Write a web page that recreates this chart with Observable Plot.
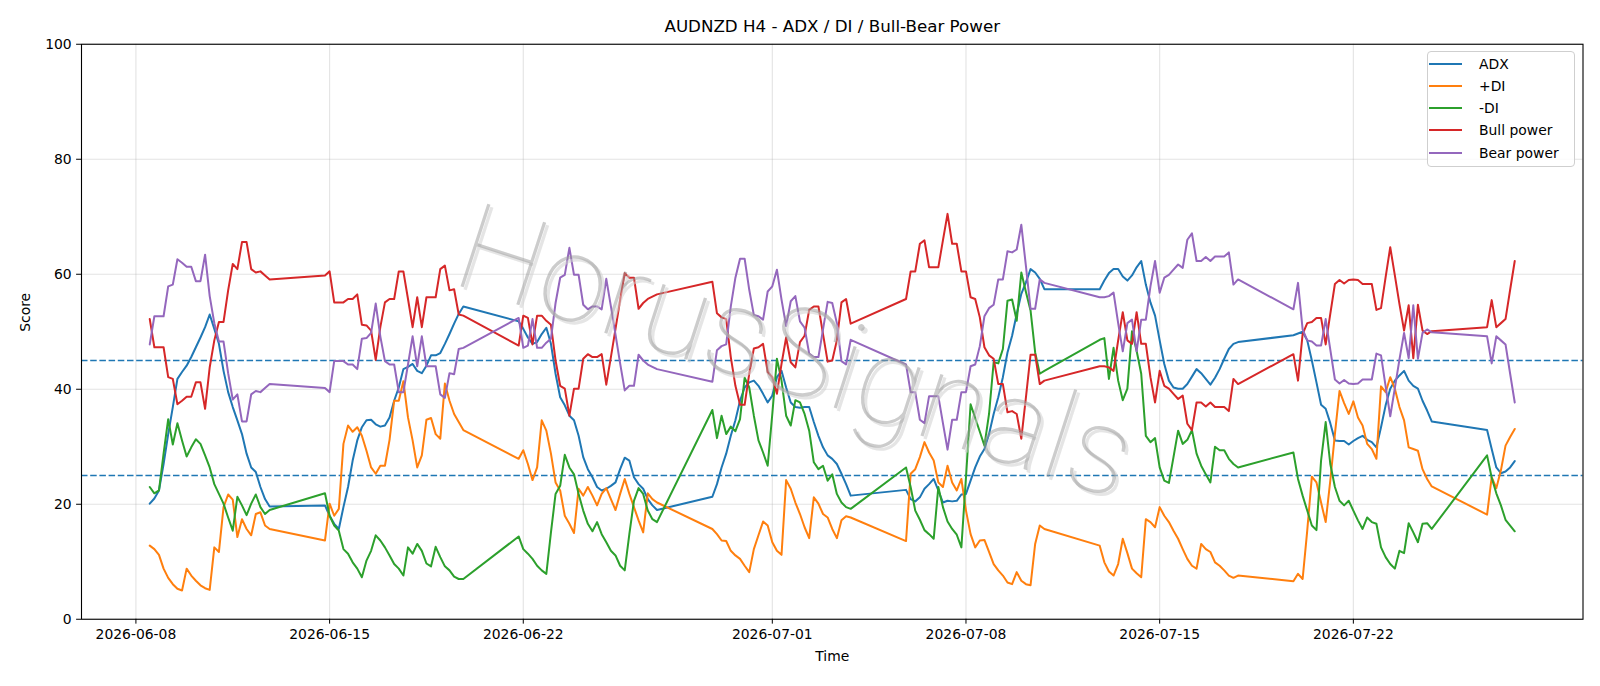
<!DOCTYPE html>
<html>
<head>
<meta charset="utf-8">
<script src="https://cdn.jsdelivr.net/npm/d3@7"></script>
<script src="https://cdn.jsdelivr.net/npm/@observablehq/plot@0.6"></script>
<style>
  html, body { margin: 0; padding: 0; background: #fff; }
  #chart { position: relative; width: 1600px; height: 686px; font-family: "DejaVu Sans", sans-serif; }
  #chart svg { position: absolute; left: 0; top: 0; }
  .legend { position: absolute; left: 1427px; top: 51px; width: 146px; height: 114px;
            border: 1px solid #cfcfcf; border-radius: 4px; background: rgba(255,255,255,0.85); }
  .legend .row { position: absolute; left: 0; height: 20px; width: 146px; }
  .legend .row svg { position: absolute; left: 4px; top: 0; }
  .legend .row span { position: absolute; left: 51px; top: 1px; font-size: 13.9px; line-height: 18px; color: #000; }
</style>
</head>
<body>
<div id="chart"></div>
<script>
// Trading sessions (UTC), H4 bars from first to last bar inclusive
const sessions = [
  ["2026-06-08T12:00:00Z", "2026-06-12T20:00:00Z"],
  ["2026-06-14T20:00:00Z", "2026-06-19T20:00:00Z"],
  ["2026-06-21T20:00:00Z", "2026-06-26T20:00:00Z"],
  ["2026-06-28T20:00:00Z", "2026-07-03T20:00:00Z"],
  ["2026-07-05T20:00:00Z", "2026-07-10T20:00:00Z"],
  ["2026-07-12T20:00:00Z", "2026-07-17T20:00:00Z"],
  ["2026-07-19T20:00:00Z", "2026-07-24T20:00:00Z"],
  ["2026-07-26T20:00:00Z", "2026-07-27T20:00:00Z"]
];

const adx = [
  20.1, 21.0, 22.4, 27.0, 32.2, 36.9, 41.8, 43.0, 44.1, 45.6, 47.3, 49.0, 50.8, 53.0, 50.5, 47.9, 43.2, 39.5, 36.9, 34.6, 32.2, 28.8, 26.4, 25.6, 23.0, 20.9, 19.6,
  19.8, 18.0, 16.6, 15.7, 19.5, 23.0, 27.6, 31.1, 33.4, 34.6, 34.7, 33.9, 33.5, 33.7, 35.1, 38.0, 40.3, 43.5, 43.9, 44.4, 43.2, 42.8, 44.1, 45.9, 45.9, 46.3, 47.9, 49.6, 51.4, 53.1, 54.4,
  51.8, 50.5, 49.0, 47.9, 48.2, 49.6, 50.7, 47.9, 42.7, 38.6, 37.2, 35.4, 34.6, 31.9, 28.2, 26.1, 24.7, 23.0, 22.4, 22.7, 23.2, 23.8, 26.1, 28.1, 27.6, 24.7, 23.5, 22.7, 20.9, 19.8, 19.0,
  21.3, 23.5, 26.4, 28.8, 31.9, 34.6, 38.0, 40.3, 41.2, 41.5, 40.6, 39.2, 37.7, 38.9, 42.1, 43.2, 40.3, 37.7, 36.9, 36.8, 36.9, 36.9, 34.3, 31.9, 29.9, 28.5, 27.9, 27.0, 25.3, 23.5, 21.5,
  22.5, 20.9, 20.5, 21.2, 22.7, 23.5, 24.4, 22.4, 20.3, 20.6, 20.5, 20.6, 21.7, 21.8, 24.1, 26.4, 28.3, 29.6, 32.2, 35.7, 38.6, 42.1, 46.4, 49.3, 53.1, 56.6, 58.6, 60.9, 60.3, 59.2, 57.4,
  57.4, 58.9, 60.2, 60.9, 60.9, 59.6, 58.9, 59.8, 61.2, 62.3, 58.2, 55.1, 52.8, 48.5, 44.4, 41.5, 40.3, 40.1, 40.1, 40.9, 42.2, 43.5, 42.8, 41.8, 40.8, 42.0, 43.5, 45.3, 47.0, 47.9, 48.2,
  49.4, 49.7, 50.0, 48.5, 45.0, 41.2, 37.3, 36.6, 34.1, 31.1, 31.0, 31.0, 30.4, 31.0, 31.5, 31.9, 31.2, 30.8, 29.9, 33.4, 37.2, 40.1, 41.5, 42.4, 43.2, 41.5, 40.6, 40.1, 38.0, 36.3, 34.4,
  32.9, 29.6, 26.4, 25.4, 25.7, 26.4, 27.5
];

const plusDI = [
  12.8, 12.2, 11.2, 8.8, 7.2, 6.1, 5.3, 5.0, 8.8, 7.6, 6.7, 5.9, 5.4, 5.1, 12.5, 11.7, 19.5, 21.7, 20.8, 14.3, 17.4, 15.7, 14.6, 18.3, 18.6, 16.3, 15.7,
  13.7, 20.1, 18.0, 19.2, 30.5, 33.7, 32.6, 33.4, 31.9, 29.3, 26.4, 25.3, 26.7, 26.7, 31.2, 38.0, 38.0, 41.4, 35.1, 31.1, 26.4, 28.5, 34.7, 35.0, 32.2, 31.4, 41.0, 38.0, 35.7, 34.3, 32.9,
  27.9, 29.4, 27.0, 24.2, 26.4, 34.6, 32.8, 28.8, 23.8, 22.4, 18.0, 16.6, 15.0, 22.7, 21.5, 23.0, 21.5, 19.8, 21.8, 22.8, 20.9, 19.0, 21.8, 24.4, 21.8, 19.5, 17.2, 15.1, 21.9, 20.9, 20.3,
  15.7, 14.8, 13.7, 13.6, 11.9, 11.1, 10.5, 9.3, 8.2, 12.2, 14.6, 17.0, 16.3, 13.4, 11.9, 11.2, 24.2, 22.7, 20.3, 18.3, 16.0, 14.1, 21.2, 20.1, 18.3, 17.7, 15.7, 14.1, 17.2, 17.9, 17.7,
  13.6, 25.3, 26.1, 28.2, 30.8, 29.0, 27.6, 23.8, 23.0, 26.7, 23.8, 22.4, 24.4, 18.9, 14.8, 12.5, 13.7, 13.8, 11.7, 9.6, 8.5, 7.6, 6.4, 6.1, 8.2, 6.7, 6.1, 5.9, 13.1, 16.3, 15.7,
  12.8, 9.9, 8.3, 7.6, 9.6, 14.0, 11.5, 8.8, 8.0, 7.3, 17.4, 16.9, 16.0, 19.5, 18.0, 16.9, 15.4, 14.0, 12.2, 10.5, 9.3, 8.8, 13.1, 12.2, 11.7, 9.9, 9.3, 8.5, 7.6, 7.2, 7.6,
  6.6, 7.9, 7.0, 15.4, 24.8, 23.8, 20.3, 16.9, 24.1, 32.2, 39.7, 37.6, 35.7, 37.9, 35.1, 33.7, 30.5, 29.6, 27.9, 40.5, 39.5, 42.1, 40.1, 36.9, 34.6, 29.9, 29.6, 29.3, 26.1, 24.4, 23.1,
  18.2, 24.7, 22.8, 25.9, 30.2, 31.7, 33.1
];

const minusDI = [
  23.0, 21.9, 22.4, 28.8, 34.8, 30.4, 34.1, 31.1, 28.3, 29.9, 31.3, 30.5, 28.5, 26.4, 23.5, 21.8, 20.1, 17.7, 15.4, 21.3, 19.8, 18.1, 20.1, 21.7, 19.5, 18.3, 19.0,
  21.9, 18.0, 16.3, 15.4, 12.2, 11.4, 9.9, 8.8, 7.3, 10.2, 11.9, 14.6, 13.7, 12.5, 11.1, 9.6, 8.8, 7.6, 12.5, 11.4, 13.1, 11.9, 9.7, 9.2, 12.6, 10.8, 9.2, 8.5, 7.4, 7.0, 7.0,
  14.4, 12.2, 11.4, 10.5, 9.3, 8.5, 7.9, 15.1, 21.8, 23.2, 28.6, 26.4, 25.2, 21.8, 18.9, 16.6, 15.3, 16.9, 14.8, 13.4, 11.9, 11.1, 9.3, 8.5, 14.8, 20.6, 22.8, 21.8, 18.9, 17.4, 16.9,
  36.4, 31.5, 35.4, 32.2, 33.5, 32.7, 34.8, 42.0, 40.3, 35.4, 31.1, 29.0, 26.7, 35.7, 45.3, 41.5, 35.4, 33.7, 38.1, 37.7, 35.7, 32.8, 27.3, 26.1, 26.7, 24.1, 25.2, 21.8, 20.3, 19.5, 19.2,
  26.4, 23.0, 18.9, 17.3, 15.5, 14.8, 14.0, 23.0, 19.5, 17.0, 15.7, 14.7, 12.5, 24.7, 37.4, 35.0, 32.6, 30.2, 35.7, 44.7, 44.5, 47.0, 55.4, 55.6, 51.9, 60.3, 56.9, 53.7, 46.4, 42.7, 43.2,
  48.6, 48.9, 41.8, 47.2, 41.5, 38.1, 40.1, 50.1, 46.7, 42.7, 31.9, 30.8, 31.5, 26.4, 24.1, 23.7, 28.2, 32.8, 30.5, 31.2, 32.9, 28.8, 26.7, 25.2, 23.8, 30.0, 29.4, 29.4, 27.9, 27.0, 26.4,
  29.0, 24.4, 21.5, 18.9, 16.3, 15.5, 27.6, 34.3, 27.0, 23.0, 20.6, 19.8, 20.6, 18.9, 17.2, 15.7, 17.7, 16.9, 16.6, 12.5, 10.8, 9.6, 8.8, 11.9, 11.5, 16.7, 15.1, 13.4, 16.6, 16.7, 15.7,
  28.5, 24.6, 21.9, 19.8, 17.3, 16.3, 15.3
];

const bullPower = [
  52.2, 47.3, 47.3, 47.3, 42.1, 41.8, 37.4, 38.0, 38.7, 38.7, 41.2, 41.2, 36.6, 43.8, 48.5, 51.7, 51.7, 57.2, 61.8, 60.9, 65.6, 65.6, 60.9, 60.3, 60.5, 59.8, 59.1,
  59.8, 60.5, 55.1, 55.1, 55.1, 55.7, 55.7, 56.5, 51.2, 51.1, 50.2, 45.1, 50.8, 55.1, 55.7, 55.7, 60.5, 60.5, 55.7, 50.8, 56.0, 50.8, 56.0, 56.0, 56.0, 60.9, 61.5, 57.2, 57.4, 53.0, 52.8,
  47.6, 52.8, 52.4, 47.8, 52.8, 52.8, 51.9, 51.2, 45.0, 40.6, 40.1, 35.4, 40.1, 40.1, 45.3, 46.1, 45.6, 45.6, 46.1, 40.8, 45.6, 50.5, 55.5, 60.2, 59.4, 59.4, 54.0, 55.0, 55.7, 56.1, 56.5,
  58.7, 53.2, 52.5, 52.2, 45.6, 40.6, 37.3, 37.3, 42.7, 47.1, 47.3, 47.9, 43.0, 42.1, 39.2, 44.4, 49.0, 44.7, 43.8, 48.2, 49.3, 53.8, 54.4, 54.4, 49.6, 44.8, 45.0, 48.5, 55.1, 55.7, 51.4,
  55.7, 60.5, 60.5, 65.3, 65.9, 61.2, 61.2, 61.2, 65.9, 70.5, 65.3, 65.3, 60.5, 60.5, 56.0, 55.7, 52.5, 47.3, 45.9, 45.3, 40.9, 40.9, 36.0, 36.2, 35.7, 31.4, 38.6, 46.0, 46.0, 40.9, 41.5,
  44.0, 44.0, 43.8, 43.2, 48.5, 53.4, 48.5, 47.9, 53.4, 47.9, 47.9, 42.1, 37.7, 43.2, 40.6, 40.1, 39.2, 38.3, 38.9, 34.0, 32.9, 37.7, 37.7, 37.0, 37.7, 36.9, 36.9, 36.9, 36.2, 41.8, 40.9,
  46.1, 41.5, 49.6, 51.5, 51.7, 52.4, 52.4, 47.8, 53.1, 58.3, 59.0, 58.4, 59.0, 59.1, 59.0, 58.3, 58.3, 58.3, 53.8, 54.1, 59.5, 64.7, 59.8, 54.8, 50.2, 54.6, 45.4, 54.7, 50.2, 49.6, 50.1,
  50.8, 55.5, 50.8, 51.5, 52.2, 57.3, 62.3
];

const bearPower = [
  47.8, 52.7, 52.7, 52.7, 57.9, 58.2, 62.6, 62.0, 61.3, 61.3, 58.8, 58.8, 63.4, 56.2, 51.5, 48.3, 48.3, 42.8, 38.2, 39.1, 34.4, 34.4, 39.1, 39.7, 39.5, 40.2, 40.9,
  40.2, 39.5, 44.9, 44.9, 44.9, 44.3, 44.3, 43.5, 48.8, 48.9, 49.8, 54.9, 49.2, 44.9, 44.3, 44.3, 39.5, 39.5, 44.3, 49.2, 44.0, 49.2, 44.0, 44.0, 44.0, 39.1, 38.5, 42.8, 42.6, 47.0, 47.2,
  52.4, 47.2, 47.6, 52.2, 47.2, 47.2, 48.1, 48.8, 55.0, 59.4, 59.9, 64.6, 59.9, 59.9, 54.7, 53.9, 54.4, 54.4, 53.9, 59.2, 54.4, 49.5, 44.5, 39.8, 40.6, 40.6, 46.0, 45.0, 44.3, 43.9, 43.5,
  41.3, 46.8, 47.5, 47.8, 54.4, 59.4, 62.7, 62.7, 57.3, 52.9, 52.7, 52.1, 57.0, 57.9, 60.8, 55.6, 51.0, 55.3, 56.2, 51.8, 50.7, 46.2, 45.6, 45.6, 50.4, 55.2, 55.0, 51.5, 44.9, 44.3, 48.6,
  44.3, 39.5, 39.5, 34.7, 34.1, 38.8, 38.8, 38.8, 34.1, 29.5, 34.7, 34.7, 39.5, 39.5, 44.0, 44.3, 47.5, 52.7, 54.1, 54.7, 59.1, 59.1, 64.0, 63.8, 64.3, 68.6, 61.4, 54.0, 54.0, 59.1, 58.5,
  56.0, 56.0, 56.2, 56.8, 51.5, 46.6, 51.5, 52.1, 46.6, 52.1, 52.1, 57.9, 62.3, 56.8, 59.4, 59.9, 60.8, 61.7, 61.1, 66.0, 67.1, 62.3, 62.3, 63.0, 62.3, 63.1, 63.1, 63.1, 63.8, 58.2, 59.1,
  53.9, 58.5, 50.4, 48.5, 48.3, 47.6, 47.6, 52.2, 46.9, 41.7, 41.0, 41.6, 41.0, 40.9, 41.0, 41.7, 41.7, 41.7, 46.2, 45.9, 40.5, 35.3, 40.2, 45.2, 49.8, 45.4, 54.6, 45.3, 49.8, 50.4, 49.9,
  49.2, 44.5, 49.2, 48.5, 47.8, 42.7, 37.7
];

const seriesNames = ["ADX", "+DI", "-DI", "Bull power", "Bear power"];
const seriesColors = ["#1f77b4", "#ff7f0e", "#2ca02c", "#d62728", "#9467bd"];
const thresholds = [45, 25];
const yTicks = [0, 20, 40, 60, 80, 100];
const xTickLabels = ["2026-06-08", "2026-06-15", "2026-06-22", "2026-07-01", "2026-07-08", "2026-07-15", "2026-07-22"];
const titleText = "AUDNZD H4 - ADX / DI / Bull-Bear Power";
const watermarkText = "HorusSignals";

// H4 bar times across all sessions
const times = sessions.flatMap(([a, b]) =>
  d3.utcHour.every(4).range(new Date(a), new Date(+new Date(b) + 1)));

const values = [adx, plusDI, minusDI, bullPower, bearPower];
const rows = values.flatMap((vals, k) =>
  vals.map((v, i) => ({t: times[i], v, s: seriesNames[k]})));

const xTicks = xTickLabels.map(s => new Date(s + "T00:00:00Z"));
const t0 = times[0], t1 = times[times.length - 1];
const pad = (t1 - t0) * 0.05;
const xDomain = [new Date(+t0 - pad), new Date(+t1 + pad)];

const font = 13.9;
const wmFont = "Roboto, 'DejaVu Sans', sans-serif";

const chart = Plot.plot({
  width: 1600,
  height: 686,
  marginLeft: 81,
  marginRight: 17.5,
  marginTop: 43.75,
  marginBottom: 67.25,
  style: {fontFamily: "DejaVu Sans, sans-serif", fontSize: font + "px", color: "#000", background: "#fff"},
  x: {type: "utc", domain: xDomain},
  y: {domain: [0, 100]},
  marks: [
    Plot.gridX(xTicks, {stroke: "#b0b0b0", strokeOpacity: 0.35, strokeWidth: 1.1}),
    Plot.gridY(yTicks, {stroke: "#b0b0b0", strokeOpacity: 0.35, strokeWidth: 1.1}),
    Plot.ruleY(thresholds, {stroke: "#1f77b4", strokeWidth: 1.4, strokeDasharray: "6.5,2.7"}),
    ...seriesNames.map((name, k) =>
      Plot.line(rows.filter(r => r.s === name), {
        x: "t", y: "v", stroke: seriesColors[k], strokeWidth: 2, curve: "linear"
      })),
    // watermark with soft shadow
    Plot.text([watermarkText], {text: d => d, frameAnchor: "middle", dx: -34, dy: 25,
      rotate: 18, fontSize: 122, fontWeight: 100, fontFamily: wmFont,
      fill: "#cfcfcf", fillOpacity: 0.55}),
    Plot.text([watermarkText], {text: d => d, frameAnchor: "middle", dx: -37, dy: 22,
      rotate: 18, fontSize: 122, fontWeight: 100, fontFamily: wmFont,
      fill: "#9a9a9a", fillOpacity: 0.5}),
    Plot.frame({stroke: "#000", strokeWidth: 1.1}),
    Plot.axisX(xTicks, {tickFormat: d3.utcFormat("%Y-%m-%d"), tickSize: 4.9, tickPadding: 4.9,
      label: null, fontSize: font}),
    Plot.axisY(yTicks, {tickSize: 4.9, tickPadding: 4.9, label: null, fontSize: font,
      tickFormat: d => String(d)}),
    Plot.text([titleText], {text: d => d, frameAnchor: "top", dy: -17.5, fontSize: 16.7,
      lineAnchor: "middle"}),
    Plot.text(["Time"], {text: d => d, frameAnchor: "bottom", dy: 37.5, fontSize: font,
      lineAnchor: "middle"}),
    Plot.text(["Score"], {text: d => d, frameAnchor: "left", dx: -55.5, rotate: -90,
      fontSize: font, lineAnchor: "middle"})
  ]
});

const root = document.getElementById("chart");
root.appendChild(chart);

// legend box
const legend = document.createElement("div");
legend.className = "legend";
const rowTops = [12.3, 34.2, 56.3, 78.4, 100.6];
seriesNames.forEach((name, k) => {
  const row = document.createElement("div");
  row.className = "row";
  row.style.top = (rowTops[k] - 10) + "px";
  row.innerHTML = `<svg width="36" height="20"><line x1="1" y1="10" x2="34" y2="10" stroke="${seriesColors[k]}" stroke-width="2"/></svg><span>${name}</span>`;
  legend.appendChild(row);
});
root.appendChild(legend);
</script>
</body>
</html>
